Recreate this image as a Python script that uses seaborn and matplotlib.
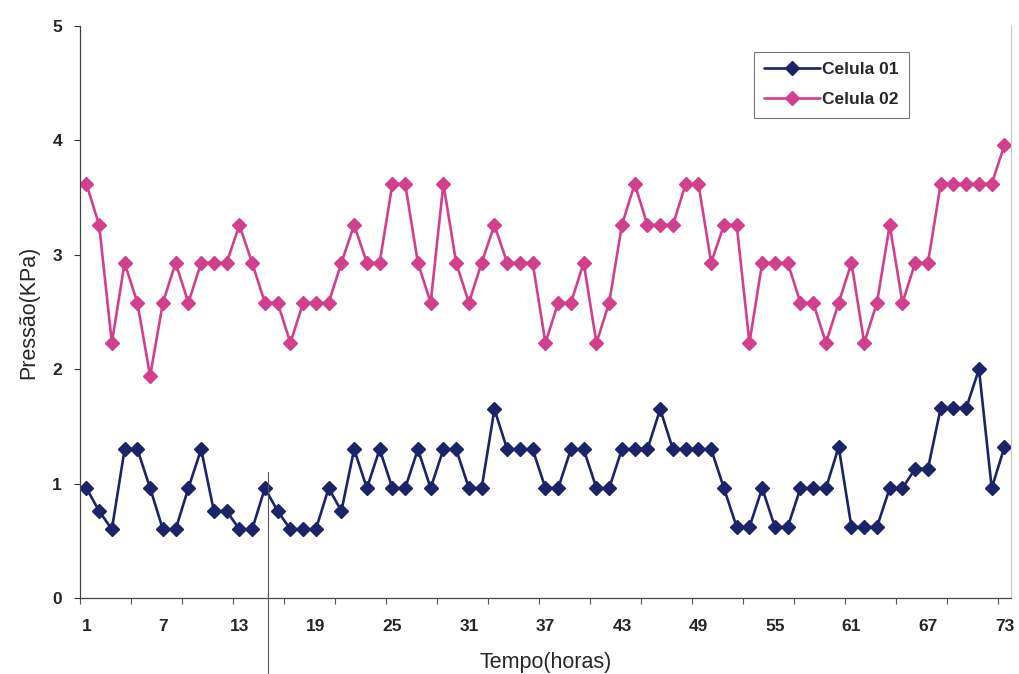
import numpy as np
import pandas as pd
import matplotlib
matplotlib.use("Agg")
import matplotlib.pyplot as plt
from matplotlib.lines import Line2D
import seaborn as sns

# Hourly readings (hours 1..73)
horas = list(range(1, 74))

celula_01 = [
    0.96, 0.76, 0.60, 1.30, 1.30, 0.96, 0.60, 0.60, 0.96, 1.30,
    0.76, 0.76, 0.60, 0.60, 0.96, 0.76, 0.60, 0.60, 0.60, 0.96,
    0.76, 1.30, 0.96, 1.30, 0.96, 0.96, 1.30, 0.96, 1.30, 1.30,
    0.96, 0.96, 1.65, 1.30, 1.30, 1.30, 0.96, 0.96, 1.30, 1.30,
    0.96, 0.96, 1.30, 1.30, 1.30, 1.65, 1.30, 1.30, 1.30, 1.30,
    0.96, 0.62, 0.62, 0.96, 0.62, 0.62, 0.96, 0.96, 0.96, 1.32,
    0.62, 0.62, 0.62, 0.96, 0.96, 1.13, 1.13, 1.66, 1.66, 1.66,
    2.00, 0.96, 1.32,
]

celula_02 = [
    3.62, 3.26, 2.23, 2.93, 2.58, 1.94, 2.58, 2.93, 2.58, 2.93,
    2.93, 2.93, 3.26, 2.93, 2.58, 2.58, 2.23, 2.58, 2.58, 2.58,
    2.93, 3.26, 2.93, 2.93, 3.62, 3.62, 2.93, 2.58, 3.62, 2.93,
    2.58, 2.93, 3.26, 2.93, 2.93, 2.93, 2.23, 2.58, 2.58, 2.93,
    2.23, 2.58, 3.26, 3.62, 3.26, 3.26, 3.26, 3.62, 3.62, 2.93,
    3.26, 3.26, 2.23, 2.93, 2.93, 2.93, 2.58, 2.58, 2.23, 2.58,
    2.93, 2.23, 2.58, 3.26, 2.58, 2.93, 2.93, 3.62, 3.62, 3.62,
    3.62, 3.62, 3.96,
]

series_names = ["Celula 01", "Celula 02"]
series_colors = ["#1b2468", "#d2408c"]
x_tick_labels = [1, 7, 13, 19, 25, 31, 37, 43, 49, 55, 61, 67, 73]
y_tick_labels = [0, 1, 2, 3, 4, 5]

df = pd.DataFrame({
    "Tempo": horas * 2,
    "Pressao": celula_01 + celula_02,
    "Serie": [series_names[0]] * len(horas) + [series_names[1]] * len(horas),
})

sns.set_theme(style="white")
plt.rcParams["font.family"] = ["Liberation Sans", "DejaVu Sans"]

fig = plt.figure(figsize=(10.19, 6.74), dpi=100)
fig.patch.set_facecolor("white")
ax = fig.add_axes([0.0785, 0.1128, 0.9135, 0.8487])

MS = 7.5
sns.lineplot(
    data=df, x="Tempo", y="Pressao", hue="Serie",
    palette=dict(zip(series_names, series_colors)),
    marker="D", markersize=MS, markeredgewidth=1.0,
    linewidth=1.9, ax=ax, legend=False,
)
for line, c in zip(ax.lines, series_colors):
    line.set_markeredgecolor(c)
    line.set_markerfacecolor(c)

ax.set_xlim(0.5, 73.5)
ax.set_ylim(0, 5)

# Labels every 6 hours, tick marks every 4 category widths
ax.set_xticks(np.arange(0.5, 74, 4))
ax.set_xticklabels([])
ax.set_xticks(x_tick_labels, minor=True)
ax.set_xticklabels([str(v) for v in x_tick_labels], minor=True,
                   fontsize=12.5, fontweight="bold")
ax.tick_params(axis="x", which="major", direction="out", length=4,
               width=0.8, color="#555555", bottom=True)
ax.tick_params(axis="x", which="minor", length=0, pad=15)

ax.set_yticks(y_tick_labels)
ax.set_yticklabels([str(v) for v in y_tick_labels], fontsize=12.5,
                   fontweight="bold")
ax.tick_params(axis="y", direction="out", length=4, width=0.8,
               color="#333333", left=True, pad=9)

for side in ("left", "bottom"):
    ax.spines[side].set_color("#444444")
    ax.spines[side].set_linewidth(0.9)
ax.spines["top"].set_visible(False)
ax.spines["right"].set_color("#c8c8c8")
ax.spines["right"].set_linewidth(0.8)

ax.set_xlabel("Tempo(horas)", fontsize=15.5, labelpad=13)
ax.set_ylabel("Pressão(KPa)", fontsize=15.5, labelpad=9)

handles = [
    Line2D([0], [0], color=c, lw=1.9, marker="D", markersize=MS,
           markerfacecolor=c, markeredgecolor=c)
    for c in series_colors
]
leg = ax.legend(
    handles, series_names, loc="upper left",
    bbox_to_anchor=(0.724, 0.955), frameon=True, fancybox=False,
    handlelength=3.2, handletextpad=0.1, borderpad=0.6,
    labelspacing=0.85, borderaxespad=0.0,
    prop={"size": 12.5, "weight": "bold"},
)
leg.get_frame().set_edgecolor("#555555")
leg.get_frame().set_linewidth(0.8)

# Thin vertical rule crossing the lower part of the sheet
fig.add_artist(Line2D([268 / 1019, 268 / 1019], [0.0, 0.30],
                      transform=fig.transFigure, color="#555555", lw=0.8))

fig.savefig("out.png", dpi=100, facecolor="white")
